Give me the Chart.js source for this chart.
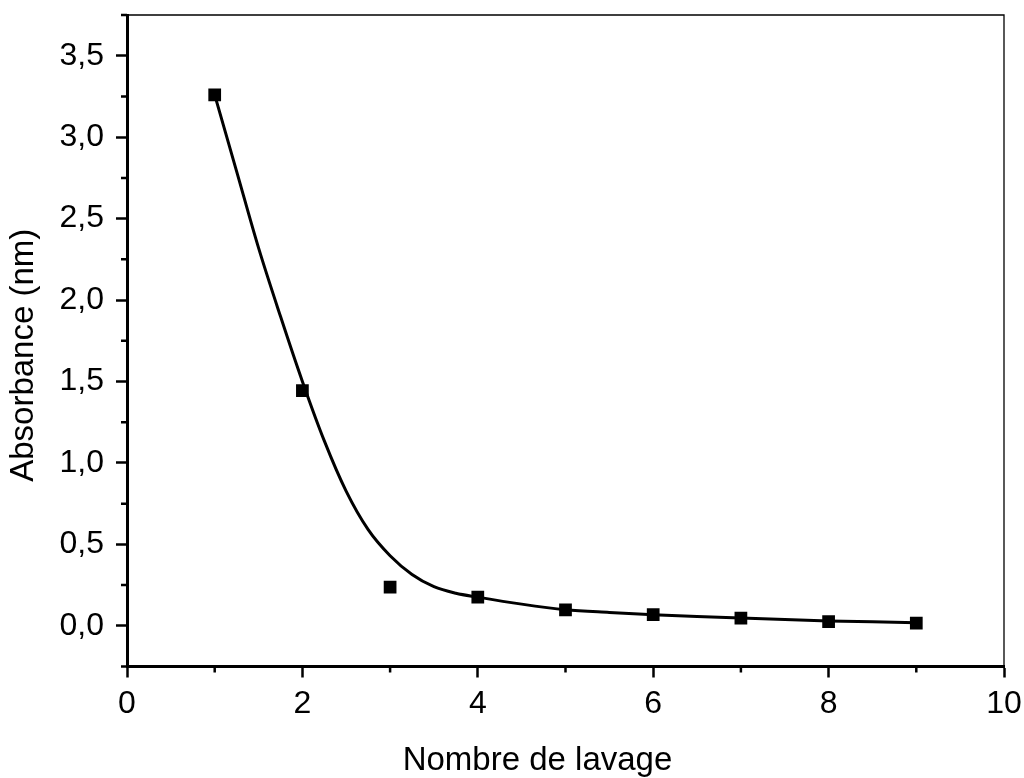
<!DOCTYPE html>
<html>
<head>
<meta charset="utf-8">
<script src="https://cdn.jsdelivr.net/npm/chart.js@4/dist/chart.umd.min.js"></script>
<style>
  html, body { margin: 0; padding: 0; background: #fff; }
  canvas { display: block; }
</style>
</head>
<body>
<canvas id="c" width="1024" height="778"></canvas>
<script>
// Measured points
const washes = [1, 2, 3, 4, 5, 6, 7, 8, 9];
const absorbance = [3.26, 1.444, 0.238, 0.176, 0.098, 0.068, 0.047, 0.026, 0.017];

// Fitted curve
const fitX = [1.0, 1.25, 1.5, 1.75, 2.0, 2.25, 2.5, 2.75, 3.0, 3.25, 3.5, 3.75, 4.0, 4.5, 5.0, 5.5, 6.0, 6.5, 7.0, 7.5, 8.0, 8.5, 9.0];
const fitY = [3.26, 2.79, 2.32, 1.90, 1.50, 1.135, 0.825, 0.59, 0.43, 0.315, 0.24, 0.2, 0.176, 0.133, 0.099, 0.082, 0.068, 0.057, 0.048, 0.039, 0.030, 0.024, 0.018];

// Axis labels
const xTitle = 'Nombre de lavage';
const yTitle = 'Absorbance (nm)';

const FONT = "'Liberation Sans', Arial, sans-serif";

const isMajorY = v => Math.abs(v * 2 - Math.round(v * 2)) < 1e-6;
const isMajorX = v => Math.abs(v / 2 - Math.round(v / 2)) < 1e-6;

const framePlugin = {
  id: 'framePlugin',
  beforeDraw(chart) {
    const sx = chart.scales.x, sy = chart.scales.y;
    if (!sx._titlePatched) {
      const ox = sx.drawTitle;
      sx.drawTitle = function () {
        const r = this.right;
        this.right = r - 56;
        ox.call(this);
        this.right = r;
      };
      sx._titlePatched = true;
    }
    if (!sy._titlePatched) {
      const oy = sy.drawTitle;
      sy.drawTitle = function () {
        const t = this.top;
        this.top = t + 29;
        oy.call(this);
        this.top = t;
      };
      sy._titlePatched = true;
    }
  },
  afterDraw(chart) {
    const { ctx, chartArea } = chart;
    const sx = chart.scales.x, sy = chart.scales.y;
    ctx.save();
    ctx.strokeStyle = '#000';
    // top and right frame lines
    ctx.lineWidth = 1.3;
    ctx.beginPath();
    ctx.moveTo(chartArea.left, chartArea.top);
    ctx.lineTo(chartArea.right, chartArea.top);
    ctx.lineTo(chartArea.right, chartArea.bottom);
    ctx.stroke();
    // minor ticks
    ctx.lineWidth = 2.5;
    ctx.beginPath();
    sy.ticks.forEach(t => {
      if (!isMajorY(t.value)) {
        const p = sy.getPixelForValue(t.value);
        ctx.moveTo(chartArea.left, p);
        ctx.lineTo(chartArea.left - 6, p);
      }
    });
    sx.ticks.forEach(t => {
      if (!isMajorX(t.value)) {
        const p = sx.getPixelForValue(t.value);
        ctx.moveTo(p, chartArea.bottom);
        ctx.lineTo(p, chartArea.bottom + 6);
      }
    });
    ctx.stroke();
    ctx.restore();
  }
};

new Chart(document.getElementById('c'), {
  type: 'line',
  data: {
    datasets: [
      {
        label: 'Mesures',
        data: washes.map((x, i) => ({ x: x, y: absorbance[i] })),
        showLine: false,
        pointStyle: 'rect',
        pointRadius: 9,
        pointHoverRadius: 9,
        backgroundColor: '#000',
        borderColor: '#000',
        borderWidth: 0,
        order: 0
      },
      {
        label: 'Ajustement',
        data: fitX.map((x, i) => ({ x: x, y: fitY[i] })),
        borderColor: '#000',
        borderWidth: 3,
        pointRadius: 0,
        fill: false,
        cubicInterpolationMode: 'monotone',
        order: 1
      }
    ]
  },
  options: {
    responsive: false,
    devicePixelRatio: 1,
    animation: false,
    layout: { padding: { top: 15, right: 20, left: 0, bottom: 0 } },
    plugins: {
      legend: { display: false },
      tooltip: { enabled: false }
    },
    scales: {
      x: {
        type: 'linear',
        min: 0,
        max: 10,
        afterFit(s) {
          s.height = 111.5;
          s.paddingLeft = 0; s.paddingRight = 0;
          s.paddingTop = 0; s.paddingBottom = 0;
        },
        ticks: {
          stepSize: 1,
          padding: 7,
          color: '#000',
          font: { family: FONT, size: 32 },
          maxRotation: 0,
          autoSkip: false,
          callback: v => isMajorX(v) ? String(Math.round(v)) : ''
        },
        grid: {
          drawOnChartArea: false,
          drawTicks: true,
          tickLength: 11,
          tickWidth: 2.5,
          tickColor: c => isMajorX(c.tick.value) ? '#000' : 'rgba(0,0,0,0)'
        },
        border: { display: true, color: '#000', width: 3 },
        title: {
          display: true,
          text: xTitle,
          color: '#000',
          font: { family: FONT, size: 33, lineHeight: 1 },
          padding: { top: 0, bottom: 0.5 }
        }
      },
      y: {
        type: 'linear',
        min: -0.25,
        max: 3.75,
        afterFit(s) {
          s.width = 127;
          s.paddingLeft = 0; s.paddingRight = 0;
          s.paddingTop = 0; s.paddingBottom = 0;
        },
        ticks: {
          stepSize: 0.25,
          padding: 12,
          color: '#000',
          font: { family: FONT, size: 32 },
          autoSkip: false,
          callback: v => isMajorY(v) ? (Math.round(v * 10) / 10).toFixed(1).replace('.', ',') : ''
        },
        grid: {
          drawOnChartArea: false,
          drawTicks: true,
          tickLength: 11,
          tickWidth: 2.5,
          tickColor: c => isMajorY(c.tick.value) ? '#000' : 'rgba(0,0,0,0)'
        },
        border: { display: true, color: '#000', width: 3 },
        title: {
          display: true,
          text: yTitle,
          color: '#000',
          font: { family: FONT, size: 33, lineHeight: 1 },
          padding: { top: 7.5, bottom: 0 }
        }
      }
    }
  },
  plugins: [framePlugin]
});
</script>
</body>
</html>
